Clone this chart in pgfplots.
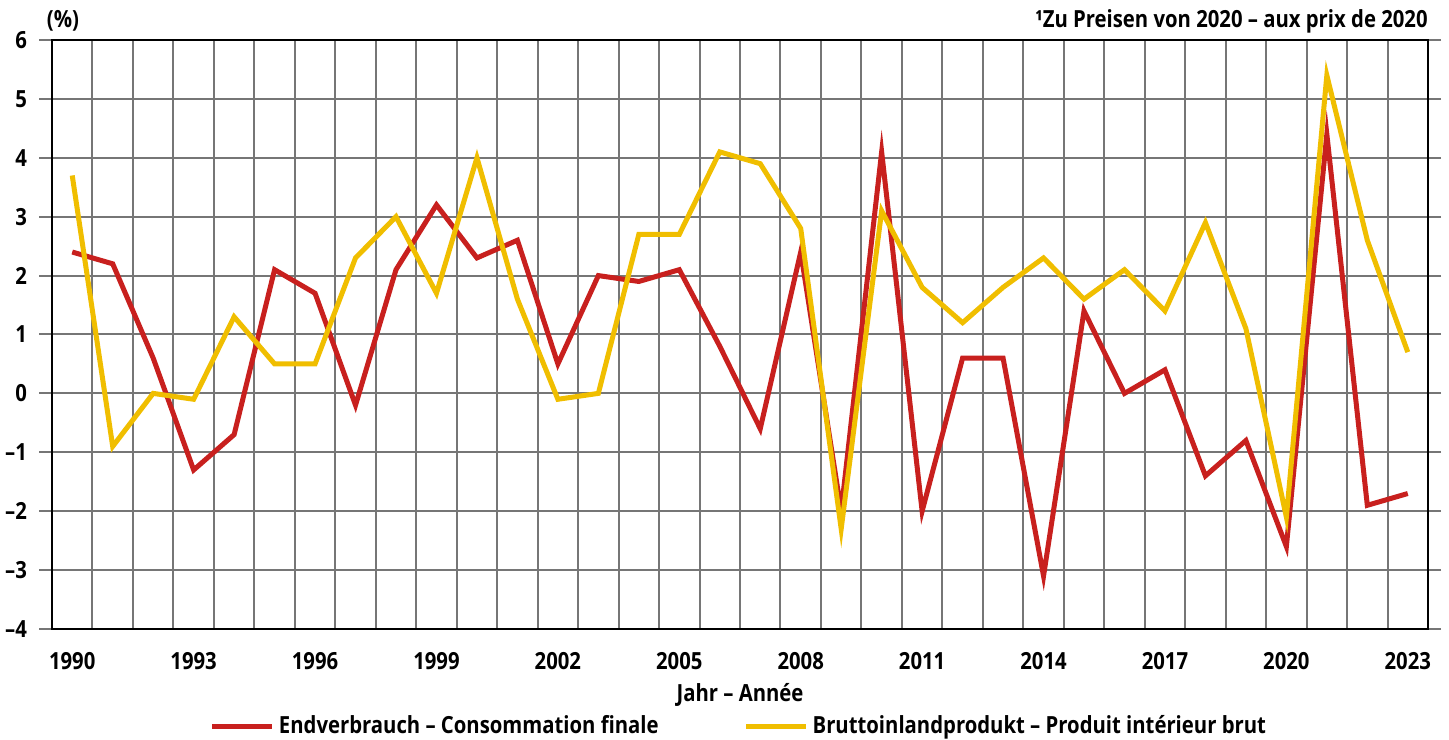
\documentclass[border=0pt]{standalone}
\usepackage{fontspec}
\setmainfont{Open Sans}[FakeStretch=0.86]
\usepackage{pgfplots}
\usepackage{pgfplotstable}
\pgfplotsset{compat=1.18}
\definecolor{endred}{RGB}{200,32,30}
\definecolor{bipyel}{RGB}{240,190,0}
\definecolor{gridgray}{RGB}{118,118,118}

% Veraenderung in % (zu Preisen von 2020)
\pgfplotstableread{
year endv bip
1990  2.4  3.7
1991  2.2 -0.9
1992  0.6  0.0
1993 -1.3 -0.1
1994 -0.7  1.3
1995  2.1  0.5
1996  1.7  0.5
1997 -0.2  2.3
1998  2.1  3.0
1999  3.2  1.7
2000  2.3  4.0
2001  2.6  1.6
2002  0.5 -0.1
2003  2.0  0.0
2004  1.9  2.7
2005  2.1  2.7
2006  0.8  4.1
2007 -0.6  3.9
2008  2.4  2.8
2009 -2.0 -2.3
2010  4.1  3.1
2011 -2.0  1.8
2012  0.6  1.2
2013  0.6  1.8
2014 -3.1  2.3
2015  1.4  1.6
2016  0.0  2.1
2017  0.4  1.4
2018 -1.4  2.9
2019 -0.8  1.1
2020 -2.6 -2.1
2021  4.4  5.4
2022 -1.9  2.6
2023 -1.7  0.7
}\data

\newcommand{\lblfont}{\fontsize{11.8}{14}\selectfont\bfseries}

\begin{document}
\begin{tikzpicture}
\begin{axis}[
  name=ax,
  scale only axis,
  width=688pt, height=294.5pt,
  xmin=1989.5, xmax=2023.5,
  ymin=-4, ymax=6,
  xtick={1990,1993,...,2023},
  minor xtick={1989.5,1990.5,...,2023.5},
  ytick={-4,...,6},
  yticklabels={–4,–3,–2,–1,0,1,2,3,4,5,6},
  xminorgrids, ymajorgrids,
  grid style={gridgray, line width=1pt},
  minor grid style={gridgray, line width=1pt},
  tick align=outside,
  major tick length=6.5pt,
  minor tick length=0pt,
  xtick style={draw=none},
  ytick style={gridgray, line width=1pt},
  axis line style={black, line width=1pt},
  tick label style={font=\lblfont},
  xticklabel style={yshift=-1.5pt},
  yticklabel style={xshift=-2.5pt},
  xticklabel={\pgfmathprintnumber[1000 sep={}]{\tick}},
  /pgf/number format/assume math mode=true,
  xlabel={Jahr – Année},
  xlabel style={font=\lblfont, at={(axis description cs:0.5,-0.112)}, anchor=center},
  clip=false,
  legend style={at={(0.5,-0.165)}, anchor=center, draw=none, fill=none,
    font=\lblfont, legend columns=2,
    /tikz/every even column/.append style={column sep=40.5pt}},
  legend image code/.code={\draw[#1, line width=2.5pt] (0pt,0pt) -- (30pt,0pt);},
]
\addplot[endred, line width=2.5pt, line join=miter] table[x=year, y=endv] {\data};
\addlegendentry{Endverbrauch – Consommation finale}
\addplot[bipyel, line width=2.5pt, line join=miter] table[x=year, y=bip] {\data};
\addlegendentry{Bruttoinlandprodukt – Produit intérieur brut}
\node[anchor=base, font=\lblfont, inner sep=0pt] at ([xshift=5.5pt, yshift=6pt]rel axis cs:0,1) {(\%)};
\node[anchor=base east, font=\lblfont, inner sep=0pt] at ([yshift=6pt]rel axis cs:1,1) {¹Zu Preisen von 2020 – aux prix de 2020};
\end{axis}
\pgfresetboundingbox
\path[use as bounding box] ([xshift=-26pt, yshift=-55.5pt]ax.south west) rectangle ([xshift=10.5pt, yshift=20pt]ax.north east);
\end{tikzpicture}
\end{document}
